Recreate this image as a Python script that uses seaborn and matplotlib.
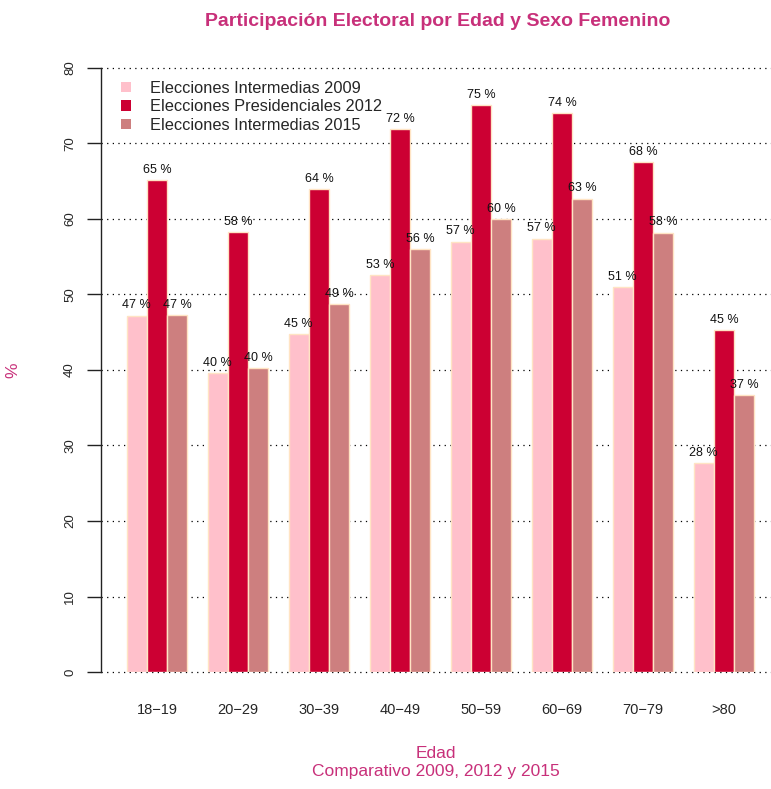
import pandas as pd
import matplotlib
matplotlib.use("Agg")
import matplotlib.pyplot as plt
import seaborn as sns
from matplotlib.patches import Patch

# datos (% participacion femenina por edad)
edades = ["18−19", "20−29", "30−39", "40−49", "50−59", "60−69", "70−79", ">80"]
series = ["Elecciones Intermedias 2009", "Elecciones Presidenciales 2012", "Elecciones Intermedias 2015"]
v2009 = [47.2, 39.6, 44.8, 52.6, 57.0, 57.4, 51.0, 27.7]
v2012 = [65.2, 58.3, 64.0, 71.9, 75.1, 74.0, 67.5, 45.3]
v2015 = [47.3, 40.3, 48.7, 56.0, 60.0, 62.7, 58.2, 36.7]
colores = ["#FFC0CB", "#CC0033", "#CD7F7F"]
magenta = "#C8307A"

df = pd.DataFrame({
    "edad": edades * 3,
    "serie": [s for s in series for _ in edades],
    "valor": v2009 + v2012 + v2015,
})

sns.set_style("white")
plt.rcParams["font.family"] = ["Liberation Sans", "DejaVu Sans"]

fig = plt.figure(figsize=(7.71, 7.89), dpi=100)
ax = fig.add_axes([101 / 771, (789 - 672) / 789, 1 - 101 / 771, (672 - 68) / 789])

sns.barplot(data=df, x="edad", y="valor", hue="serie", order=edades, hue_order=series,
            palette=colores, width=0.75, gap=0, edgecolor="#FFE4C4", linewidth=1,
            saturation=1, legend=False, ax=ax, zorder=2)

# etiquetas de valor sobre cada barra
for p in ax.patches:
    h = p.get_height()
    if h > 0:
        ax.annotate(f"{h:.0f} %", (p.get_x() + p.get_width() / 2, h), xytext=(0, 3),
                    textcoords="offset points", ha="center", va="bottom", fontsize=9,
                    color="#111111", zorder=3, annotation_clip=False)

ax.set_ylim(0, 80)
ax.set_xlim((101 - 157) / 81, (771 - 157) / 81)
ax.set_yticks(range(0, 81, 10))
for y in range(0, 81, 10):
    ax.axhline(y, color="black", linestyle=(0, (1, 3.5)), linewidth=0.9, zorder=1, clip_on=False)

for s in ["top", "right", "bottom"]:
    ax.spines[s].set_visible(False)
ax.spines["left"].set_color("#222222")
ax.spines["left"].set_linewidth(1)
ax.tick_params(axis="y", left=True, length=10, width=1, color="#222222", labelsize=9.5, pad=8)
for t in ax.get_yticklabels():
    t.set_rotation(90)
    t.set_va("center")
ax.tick_params(axis="x", bottom=False, length=0, labelsize=10.5, pad=22)

ax.set_xlabel("Edad\nComparativo 2009, 2012 y 2015", color=magenta, fontsize=12.5, labelpad=21,
              linespacing=1.25)
ax.set_ylabel("%", color=magenta, fontsize=12.5)
ax.yaxis.set_label_coords((20 - 101) / 670, 0.5)

fig.suptitle("Participación Electoral por Edad y Sexo Femenino", color=magenta,
             fontsize=14, fontweight="bold", x=0.568, y=0.984)

handles = [Patch(facecolor=c, edgecolor="none") for c in colores]
ax.legend(handles, series, loc="upper left", bbox_to_anchor=(0.02, 0.99), frameon=False,
          fontsize=11.8, handlelength=0.6, handleheight=0.6, handletextpad=1.2,
          labelspacing=0.22, borderaxespad=0)

fig.savefig("out.png", dpi=100)
